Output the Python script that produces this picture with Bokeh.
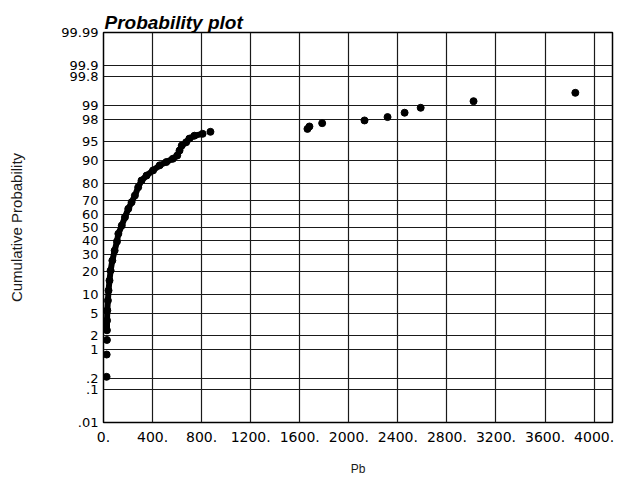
from statistics import NormalDist

from bokeh.plotting import figure
from bokeh.models import Range1d, FixedTicker, CustomJSTickFormatter
from bokeh.embed import file_html
from bokeh.resources import INLINE

# ---- data ----
prob_ticks = [0.01, 0.1, 0.2, 1, 2, 5, 10, 20, 30, 40, 50, 60, 70, 80, 90,
              95, 98, 99, 99.8, 99.9, 99.99]
prob_labels = [".01", ".1", ".2", "1", "2", "5", "10", "20", "30", "40", "50",
               "60", "70", "80", "90", "95", "98", "99", "99.8", "99.9", "99.99"]

x_ticks = [0, 400, 800, 1200, 1600, 2000, 2400, 2800, 3200, 3600, 4000]
x_labels = ["0.", "400.", "800.", "1200.", "1600.", "2000.", "2400.", "2800.",
            "3200.", "3600.", "4000."]

# Pb concentrations and their cumulative probability (%)
pb = [25, 26, 28, 28, 29, 31, 36, 41, 49, 58, 72, 91, 110, 121, 149, 175,
      202, 229, 256, 283, 310, 351, 404, 458, 512, 565, 601, 620, 638, 674,
      700, 741, 808, 872, 1663, 1679, 1783, 2128, 2316, 2455, 2586, 3017, 3847]
cum_prob = [0.22, 0.77, 1.6, 2.5, 3.8, 5.7, 8.2, 11.5, 15.6, 20.6, 26.4, 33.0,
            39.5, 45.2, 51.5, 57.8, 63.9, 68.5, 72.9, 77.9, 81.5, 83.9, 86.2,
            88.2, 89.4, 90.5, 91.5, 92.9, 94.1, 94.8, 95.5, 96.0, 96.3, 96.6,
            97.0, 97.3, 97.67, 97.94, 98.24, 98.57, 98.88, 99.20, 99.49]

# ---- normal probability scale ----
nd = NormalDist()


def z(pct):
    return nd.inv_cdf(pct / 100.0)


z_ticks = [z(v) for v in prob_ticks]
z_pts = [z(v) for v in cum_prob]

p = figure(width=620, height=480,
           x_range=Range1d(0, 4150),
           y_range=Range1d(z(0.01), z(99.99)),
           title="Probability plot",
           output_backend="svg", toolbar_location=None,
           min_border_left=103, min_border_right=8,
           min_border_top=32, min_border_bottom=58)

p.background_fill_color = "white"
p.border_fill_color = "white"
p.outline_line_color = "black"
p.outline_line_width = 1.5

p.title.text_font = "Liberation Sans"
p.title.text_font_size = "19px"
p.title.text_font_style = "bold italic"
p.title.align = "left"
p.title.offset = 1
p.title.standoff = 0
p.title.text_color = "black"

# x axis
p.xaxis.ticker = FixedTicker(ticks=x_ticks)
p.xaxis.major_label_overrides = {t: l for t, l in zip(x_ticks, x_labels)}
p.xaxis.axis_label = "Pb"
p.xaxis.axis_label_text_font = "Liberation Sans"
p.xaxis.axis_label_text_font_size = "12px"
p.xaxis.axis_label_text_font_style = "normal"
p.xaxis.axis_label_standoff = 17
p.xaxis.major_label_text_font = "DejaVu Sans"
p.xaxis.major_label_text_font_size = "14px"
p.xaxis.major_label_standoff = 9

# y axis
p.yaxis.ticker = FixedTicker(ticks=z_ticks)
p.yaxis.formatter = CustomJSTickFormatter(
    args=dict(zs=z_ticks, labs=prob_labels),
    code="""
    for (let i = 0; i < zs.length; i++) {
        if (Math.abs(zs[i] - tick) < 1e-6) { return labs[i]; }
    }
    return "";
    """)
p.yaxis.axis_label = "Cumulative Probability"
p.yaxis.axis_label_text_font = "Liberation Sans"
p.yaxis.axis_label_text_font_size = "15px"
p.yaxis.axis_label_text_font_style = "normal"
p.yaxis.axis_label_standoff = 33
p.yaxis.major_label_text_font = "DejaVu Sans"
p.yaxis.major_label_text_font_size = "13px"
p.yaxis.major_label_standoff = 5

for ax in (p.xaxis, p.yaxis):
    ax.axis_line_color = None
    ax.major_tick_line_color = None
    ax.minor_tick_line_color = None
    ax.major_tick_out = 0
    ax.major_tick_in = 0
    ax.minor_tick_out = 0
    ax.minor_tick_in = 0
    ax.major_label_text_color = "black"
    ax.axis_label_text_color = "#1a1a1a"

p.grid.grid_line_color = "#1a1a1a"
p.grid.grid_line_width = 1.2
p.grid.grid_line_alpha = 1.0

# dense part of the sample drawn as a thick band, all points as dots
dense = [i for i, v in enumerate(pb) if v < 850 and cum_prob[i] > 2.0]
p.line([pb[i] for i in dense], [z_pts[i] for i in dense],
       line_color="black", line_width=6, line_join="round", line_cap="round")
p.scatter(pb, z_pts, marker="circle", size=7,
          fill_color="black", line_color="black")

open("out.html", "w").write(file_html(p, INLINE))
